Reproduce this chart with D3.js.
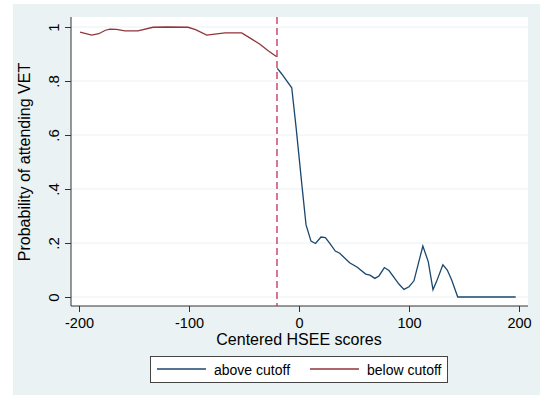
<!DOCTYPE html>
<html>
<head>
<meta charset="utf-8">
<script src="https://cdn.jsdelivr.net/npm/d3@7"></script>
<style>
html,body{margin:0;padding:0;background:#fff;}
svg{display:block;}
text{font-family:"Liberation Sans",Arial,Helvetica,sans-serif;fill:#000;}
</style>
</head>
<body>
<svg id="chart" width="541" height="398"></svg>
<script>
// ---- data ----
const belowX = [-199, -188.5, -182, -176, -171.8, -166, -158.2, -146.4, -132.7, -120, -100.9, -94, -83.9, -67.3, -52.1, -44, -35.5, -28, -20.3];
const belowY = [0.981, 0.970, 0.975, 0.988, 0.992, 0.991, 0.986, 0.986, 0.999, 1.0, 0.999, 0.99, 0.970, 0.978, 0.978, 0.958, 0.936, 0.912, 0.890];
const aboveX = [-19.7, -15.7, -6.6, -2.7, 2.5, 6.4, 10.9, 15, 20, 24, 28, 33, 37, 46, 53, 60.6, 64.5, 69, 72.7, 77.6, 81.8, 91, 95.4, 100, 104.5, 112.6, 117.5, 121.8, 125, 130.8, 134.8, 138.8, 144.3, 197];
const aboveY = [0.847, 0.826, 0.775, 0.630, 0.420, 0.267, 0.207, 0.198, 0.222, 0.220, 0.199, 0.170, 0.162, 0.127, 0.110, 0.085, 0.081, 0.069, 0.078, 0.109, 0.098, 0.047, 0.028, 0.038, 0.060, 0.189, 0.131, 0.027, 0.057, 0.119, 0.100, 0.063, 0.0, 0.0];
const cutoff = -20;
const xTicks = [-200, -100, 0, 100, 200];
const xTickLabels = ["-200", "-100", "0", "100", "200"];
const yTicks = [0, 0.2, 0.4, 0.6, 0.8, 1];
const yTickLabels = ["0", ".2", ".4", ".6", ".8", "1"];
const seriesNames = ["above cutoff", "below cutoff"];
const xTitle = "Centered HSEE scores";
const yTitle = "Probability of attending VET";

// ---- layout ----
const svg = d3.select("#chart");
const bg = "#eaf2f3";
const blue = "#1a476f", red = "#90353b", dash = "#c63e62";
const plotL = 71, plotR = 528, plotT = 17, plotB = 306;

svg.append("rect").attr("x", 13).attr("y", 4).attr("width", 527).attr("height", 391).attr("fill", bg);
svg.append("rect").attr("x", plotL).attr("y", plotT).attr("width", plotR - plotL).attr("height", plotB - plotT).attr("fill", "#fff");

const x = d3.scaleLinear().domain([-200, 200]).range([79, 519]);
const y = d3.scaleLinear().domain([0, 1]).range([297, 27]);

// grid
svg.append("g").selectAll("line").data(yTicks).join("line")
  .attr("x1", plotL).attr("x2", plotR)
  .attr("y1", d => y(d)).attr("y2", d => y(d))
  .attr("stroke", bg).attr("stroke-width", 1.2);

// axes
const yAxis = d3.axisLeft(y).tickValues(yTicks).tickSize(6).tickPadding(5)
  .tickFormat((d, i) => yTickLabels[i]);
const gy = svg.append("g").attr("transform", `translate(${plotL},0)`).call(yAxis);
gy.select(".domain").attr("d", `M0,${plotT}V${plotB}`).attr("stroke", "#333");
gy.selectAll(".tick line").attr("stroke", "#333");
gy.selectAll(".tick text")
  .attr("font-size", 15)
  .attr("x", null).attr("dy", null)
  .attr("text-anchor", "middle")
  .attr("transform", "translate(-12,0) rotate(-90)")
  .attr("y", 0);

const xAxis = d3.axisBottom(x).tickValues(xTicks).tickSize(6).tickPadding(4)
  .tickFormat((d, i) => xTickLabels[i]);
const gx = svg.append("g").attr("transform", `translate(0,${plotB})`).call(xAxis);
gx.select(".domain").attr("d", `M${plotL},0H${plotR}`).attr("stroke", "#333");
gx.selectAll(".tick line").attr("stroke", "#333");
gx.selectAll(".tick text").attr("font-size", 14.5).attr("dy", null).attr("y", 22);
svg.selectAll(".tick text").attr("fill", "#000").attr("font-family", '"Liberation Sans",Arial,sans-serif');

// titles
svg.append("text").attr("x", 299).attr("y", 345).attr("text-anchor", "middle")
  .attr("font-size", 16).text(xTitle);
svg.append("text").attr("transform", "translate(30,162) rotate(-90)").attr("text-anchor", "middle")
  .attr("font-size", 16).text(yTitle);

// lines
const line = d3.line().x(d => x(d[0])).y(d => y(d[1]));
svg.append("path").datum(belowX.map((v, i) => [v, belowY[i]]))
  .attr("d", line).attr("fill", "none").attr("stroke", red).attr("stroke-width", 1.3);
svg.append("path").datum(aboveX.map((v, i) => [v, aboveY[i]]))
  .attr("d", line).attr("fill", "none").attr("stroke", blue).attr("stroke-width", 1.3);

// cutoff
svg.append("line").attr("x1", x(cutoff)).attr("x2", x(cutoff))
  .attr("y1", plotT).attr("y2", plotB)
  .attr("stroke", dash).attr("stroke-width", 1.4).attr("stroke-dasharray", "7,4");

// legend
const lg = svg.append("g");
lg.append("rect").attr("x", 150.5).attr("y", 356.5).attr("width", 297).attr("height", 26)
  .attr("fill", "#fff").attr("stroke", "#444").attr("stroke-width", 1);
const legendItems = [{name: seriesNames[0], color: blue, x0: 157}, {name: seriesNames[1], color: red, x0: 310}];
legendItems.forEach(it => {
  lg.append("line").attr("x1", it.x0).attr("x2", it.x0 + 49).attr("y1", 369).attr("y2", 369)
    .attr("stroke", it.color).attr("stroke-width", 1.3);
  lg.append("text").attr("x", it.x0 + 57).attr("y", 375).attr("font-size", 14).text(it.name);
});
</script>
</body>
</html>
